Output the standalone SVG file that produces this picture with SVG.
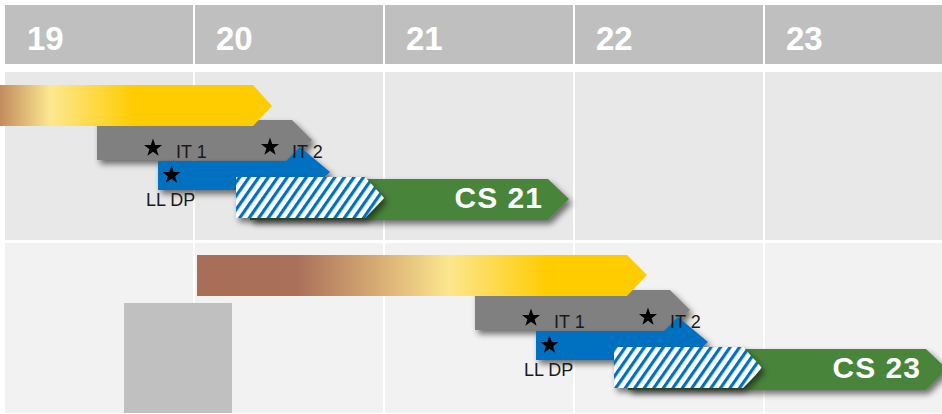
<svg xmlns="http://www.w3.org/2000/svg" xmlns:xlink="http://www.w3.org/1999/xlink" width="942" height="414" viewBox="0 0 942 414">
<style>
.hdr{fill:#bfbfbf}
.hnum{font-family:"Liberation Sans",Arial,sans-serif;font-weight:bold;font-size:33px;fill:#ffffff}
.lbl{font-family:"Liberation Sans",Arial,sans-serif;font-size:18px;fill:#1a1a1a}
.cs{font-family:"Liberation Sans",Arial,sans-serif;font-weight:bold;font-size:30px;fill:#ffffff;letter-spacing:1px;text-anchor:end}
.gray{fill:#808080}
.blue{fill:#0070c0}
.green{fill:#4a843a}
.star{fill:#000000}
</style>
<defs>
<filter id="sh" x="-10%" y="-30%" width="125%" height="180%">
<feGaussianBlur in="SourceAlpha" stdDeviation="3"/>
<feOffset dx="3" dy="4" result="b"/>
<feComponentTransfer><feFuncA type="linear" slope="0.55"/></feComponentTransfer>
<feMerge><feMergeNode/><feMergeNode in="SourceGraphic"/></feMerge>
</filter>
<linearGradient id="g1" gradientUnits="userSpaceOnUse" x1="0" y1="0" x2="272" y2="0">
<stop offset="0" stop-color="#c28c5e"/>
<stop offset="0.185" stop-color="#fde890"/>
<stop offset="0.49" stop-color="#ffcc00"/>
<stop offset="1" stop-color="#ffcc00"/>
</linearGradient>
<linearGradient id="g2" gradientUnits="userSpaceOnUse" x1="197" y1="0" x2="647" y2="0">
<stop offset="0" stop-color="#a86e58"/>
<stop offset="0.22" stop-color="#aa705a"/>
<stop offset="0.39" stop-color="#d4a872"/>
<stop offset="0.56" stop-color="#fde68e"/>
<stop offset="0.78" stop-color="#ffcc00"/>
<stop offset="1" stop-color="#ffcc00"/>
</linearGradient>
<pattern id="hatch" patternUnits="userSpaceOnUse" width="7.8" height="7.8" patternTransform="rotate(35)">
<rect width="7.8" height="7.8" fill="#ffffff"/>
<rect width="3.2" height="7.8" fill="#0070c0"/>
</pattern>
<polygon id="starshape" points="0,-9.5 2.234,-3.074 9.035,-2.936 3.614,1.174 5.584,7.686 0,3.8 -5.584,7.686 -3.614,1.174 -9.035,-2.936 -2.234,-3.074"/>
</defs>

<rect width="942" height="414" fill="#ffffff"/>

<g id="grid">
<rect class="hdr" x="5" y="5" width="188" height="59"/>
<rect class="hdr" x="195" y="5" width="188" height="59"/>
<rect class="hdr" x="385" y="5" width="188" height="59"/>
<rect class="hdr" x="575" y="5" width="188" height="59"/>
<rect class="hdr" x="765" y="5" width="177" height="59"/>
<text class="hnum" x="27" y="50">19</text>
<text class="hnum" x="216" y="50">20</text>
<text class="hnum" x="406" y="50">21</text>
<text class="hnum" x="596" y="50">22</text>
<text class="hnum" x="786" y="50">23</text>
<g fill="#e8e8e8">
<rect x="5" y="72" width="188" height="168"/>
<rect x="195" y="72" width="188" height="168"/>
<rect x="385" y="72" width="188" height="168"/>
<rect x="575" y="72" width="188" height="168"/>
<rect x="765" y="72" width="177" height="168"/>
</g>
<g fill="#f2f2f2">
<rect x="5" y="243" width="188" height="170"/>
<rect x="195" y="243" width="188" height="170"/>
<rect x="385" y="243" width="188" height="170"/>
<rect x="575" y="243" width="188" height="170"/>
<rect x="765" y="243" width="177" height="170"/>
</g>
</g>

<g id="placeholder-box">
<rect x="124" y="303" width="108" height="110" fill="#c0c0c0"/>
</g>

<g id="connectors"></g>

<g id="row1">
<g id="r1-it" filter="url(#sh)"><polygon class="gray" points="97,120 292,120 312,140 292,160 97,160"/></g>
<g id="r1-gold"><polygon fill="url(#g1)" points="0,85 253,85 272,106 253,126 0,126"/></g>
<g id="r1-lldp" filter="url(#sh)"><polygon class="blue" points="158,161 286,161 300,147 330,172 310,190 158,190"/></g>
<g id="r1-cs" filter="url(#sh)"><polygon class="green" points="250,179 548,179 569,199 548,220 250,220"/></g>
<g id="r1-hatch" filter="url(#sh)"><polygon fill="url(#hatch)" points="236,177 365,177 384,198 365,218 236,218"/></g>
<use href="#starshape" xlink:href="#starshape" class="star" x="153" y="148"/>
<use href="#starshape" xlink:href="#starshape" class="star" x="270" y="147"/>
<use href="#starshape" xlink:href="#starshape" class="star" x="171.5" y="175"/>
<text class="lbl" x="176" y="158">IT 1</text>
<text class="lbl" x="292" y="158">IT 2</text>
<text class="lbl" x="146" y="206">LL DP</text>
<text class="cs" x="543" y="208">CS 21</text>
</g>

<g id="row2">
<g id="r2-it" filter="url(#sh)"><polygon class="gray" points="475,290 670,290 690,310 670,330 475,330"/></g>
<g id="r2-gold"><polygon fill="url(#g2)" points="197,255 627,255 647,275 627,296 197,296"/></g>
<g id="r2-lldp" filter="url(#sh)"><polygon class="blue" points="536,331 664,331 678,317 708,342 688,360 536,360"/></g>
<g id="r2-cs" filter="url(#sh)"><polygon class="green" points="628,349 926,349 947,369 926,390 628,390"/></g>
<g id="r2-hatch" filter="url(#sh)"><polygon fill="url(#hatch)" points="614,347 743,347 762,368 743,388 614,388"/></g>
<use href="#starshape" xlink:href="#starshape" class="star" x="531" y="318"/>
<use href="#starshape" xlink:href="#starshape" class="star" x="648" y="317"/>
<use href="#starshape" xlink:href="#starshape" class="star" x="549.5" y="345"/>
<text class="lbl" x="554" y="328">IT 1</text>
<text class="lbl" x="670" y="328">IT 2</text>
<text class="lbl" x="524" y="376">LL DP</text>
<text class="cs" x="921" y="378">CS 23</text>
</g>
</svg>
